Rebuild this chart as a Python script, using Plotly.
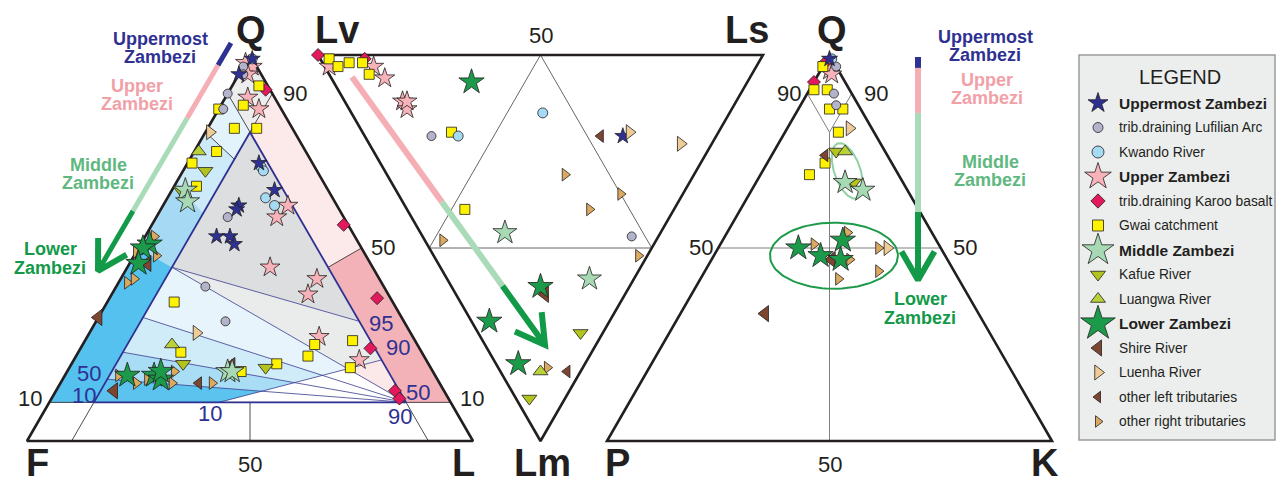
import math
import plotly.graph_objects as go

# ---------------- DATA (percent compositions) ----------------
# QFL diagram: (Q, F, L)
QFL_UPPERMOST = [(99, 0, 1), (95, 5, 0), (72, 12, 16), (65, 12, 23), (61, 22, 17), (60, 23, 17),
                 (53, 31, 16), (53, 28, 19), (51, 28, 21)]
QFL_LUFILIAN = [(97, 3, 0), (95, 4, 1), (90, 10, 0), (86, 13, 1), (58, 26, 16), (40, 40, 20), (31, 40, 29)]
QFL_KWANDO = [(99, 0, 1), (71, 12, 17), (70, 12, 18), (63, 15, 22), (61, 14, 25)]
QFL_UPPER = [(98, 2, 0), (97, 1, 2), (95, 3, 2), (89, 6, 5), (86, 5, 9), (61, 11, 28), (58, 15, 27),
             (45, 23, 32), (42, 14, 44), (38, 18, 44), (27, 21, 52), (21, 15, 64)]
QFL_KAROO = [(91, 1, 8), (56, 1, 43), (37, 3, 60), (24, 11, 65), (13, 11, 76), (11, 11, 78)]
QFL_GWAI = [(92, 2, 6), (86, 14, 0), (87, 8, 5), (81, 13, 6), (81, 8, 11), (75, 20, 5), (72, 27, 1),
            (66, 29, 5), (36, 49, 15), (23, 54, 23), (18, 43, 39), (20, 34, 46), (22, 26, 52),
            (25, 23, 52), (26, 14, 60), (19, 18, 63)]
QFL_MIDDLE = [(65, 32, 3), (62, 33, 5), (18, 46, 36), (18, 45, 37)]
QFL_KAFUE = [(70, 25, 5), (65, 33, 2), (20, 55, 25), (19, 37, 44)]
QFL_LUANGWA = [(75, 24, 1), (25, 55, 20)]
QFL_LOWER = [(51, 47, 2), (50, 49, 1), (46, 52, 2), (17, 69, 14), (17, 63, 20), (16, 62, 22), (18, 61, 21)]
QFL_SHIRE = [(46, 50, 4), (32, 68, 0), (13, 74, 13)]
QFL_OTHER_LEFT = [(15, 54, 31), (20, 44, 36)]
QFL_LUENHA = [(80, 19, 1), (28, 48, 24)]
QFL_OTHER_RIGHT = [(53, 45, 2), (49, 51, 0), (48, 47, 5), (41, 57, 2), (42, 55, 3), (17, 71, 12),
                   (15, 68, 17), (16, 65, 19), (18, 58, 24), (15, 60, 25), (15, 51, 34)]

# Lithic diagram: (Lv, Ls, Lm)
LLL_UPPERMOST = [(21, 58, 21)]
LLL_LUFILIAN = [(64, 15, 21), (6, 47, 47)]
LLL_KWANDO = [(58, 21, 21), (42, 43, 15)]
LLL_UPPER = [(96, 1, 3), (86, 11, 3), (82, 12, 6), (75, 13, 12), (73, 13, 14), (74, 14, 12)]
LLL_KAROO = [(100, 0, 0), (89, 10, 1)]
LLL_GWAI = [(97, 2, 1), (94, 3, 3), (92, 6, 2), (89, 9, 2), (86, 9, 5), (60, 20, 20), (47, 13, 40)]
LLL_MIDDLE = [(35, 19, 46), (10, 32, 58)]
LLL_KAFUE = [(5, 23, 72), (8, 3, 89)]
LLL_LUANGWA = [(9, 9, 82)]
LLL_LOWER = [(62, 31, 7), (20, 20, 60), (27, 4, 69), (15, 5, 80)]
LLL_SHIRE = [(18, 20, 62)]
LLL_OTHER_LEFT = [(26, 53, 21), (3, 15, 82)]
LLL_LUENHA = [(7, 70, 23), (20, 60, 20)]
LLL_OTHER_RIGHT = [(29, 40, 31), (14, 50, 36), (19, 41, 40), (48, 4, 48), (2, 46, 52), (8, 11, 81)]

# QPK diagram: (Q, P, K)
QPK_UPPERMOST = [(99, 0.5, 0.5)]
QPK_LUFILIAN = [(97, 0, 3), (90, 4, 6), (87, 5, 8)]
QPK_KWANDO = [(99, 0, 1)]
QPK_UPPER = [(96, 2, 2), (95, 2, 3)]
QPK_KAROO = [(98, 2, 0), (93, 7, 0)]
QPK_GWAI = [(97, 3, 0), (91, 8, 1), (91, 5, 4), (86, 7, 7), (86, 4, 10), (80, 8, 12), (72, 15, 13), (69, 20, 11)]
QPK_MIDDLE = [(67, 13, 20), (65, 10, 25)]
QPK_KAFUE = [(75, 11, 14), (67, 11, 22)]
QPK_LUANGWA = [(75, 9, 16)]
QPK_LOWER = [(50, 32, 18), (48, 28, 24), (47, 24, 29), (52, 21, 27)]
QPK_SHIRE = [(47, 26, 27), (33, 48, 19)]
QPK_OTHER_LEFT = [(74, 14, 12)]
QPK_LUENHA = [(81, 5, 14), (50, 12, 38)]
QPK_OTHER_RIGHT = [(51, 28, 21), (54, 19, 27), (47, 22, 31), (50, 14, 36), (44, 17, 39), (42, 27, 31)]

LEGEND_ITEMS = [
    ("Uppermost Zambezi", "uppermost", True), ("trib.draining Lufilian Arc", "lufilian", False),
    ("Kwando River", "kwando", False), ("Upper Zambezi", "upper", True),
    ("trib.draining Karoo basalt", "karoo", False), ("Gwai catchment", "gwai", False),
    ("Middle Zambezi", "middle", True), ("Kafue River", "kafue", False),
    ("Luangwa River", "luangwa", False), ("Lower Zambezi", "lower", True),
    ("Shire River", "shire", False), ("Luenha River", "luenha", False),
    ("other left tributaries", "other_left", False), ("other right tributaries", "other_right", False),
]

# ---------------- STYLES ----------------
STYLE = {
    "uppermost": ("star", 12, "#2e3192", 15),
    "lufilian": ("circle", 9, "#b3b4cc", 10),
    "kwando": ("circle", 10, "#a4dbf3", 12),
    "upper": ("star", 15, "#f7b3b9", 20),
    "karoo": ("diamond", 10, "#e21a5d", 11),
    "gwai": ("square", 10, "#fff200", 11),
    "middle": ("star", 18, "#a6d9b4", 24),
    "kafue": ("triangle-down", 13, "#b2c41d", 13),
    "luangwa": ("triangle-up", 13, "#b9d23a", 13),
    "lower": ("star", 19, "#1b9a4a", 26),
    "shire": ("triangle-left", 14, "#7d4631", 14),
    "luenha": ("triangle-right", 13, "#efcb96", 13),
    "other_left": ("triangle-left", 11, "#7d4631", 10),
    "other_right": ("triangle-right", 11, "#dca960", 10),
}
FONT = "Liberation Sans, Arial, sans-serif"
NAVY = "#2e3192"
PINK = "#f4aeb4"
LGREEN = "#a9dbb8"
DGREEN = "#129a48"

# triangle frames (layout): vertices in plot units
TRI_QFL = {"top": (250, 55), "left": (27, 441), "right": (473, 441)}
TRI_LLL = {"a": (318, 55), "b": (763, 55), "c": (540.5, 441)}
TRI_QPK = {"top": (829.5, 55), "left": (607, 441), "right": (1052, 441)}


def bary(v1, v2, v3):
    def f(a, b, c):
        s = float(a + b + c)
        a, b, c = a / s, b / s, c / s
        return (a * v1[0] + b * v2[0] + c * v3[0], a * v1[1] + b * v2[1] + c * v3[1])
    return f


P_QFL = bary(TRI_QFL["top"], TRI_QFL["left"], TRI_QFL["right"])
P_LLL = bary(TRI_LLL["a"], TRI_LLL["b"], TRI_LLL["c"])
P_QPK = bary(TRI_QPK["top"], TRI_QPK["left"], TRI_QPK["right"])

fig = go.Figure()


def poly(pts, proj, color):
    xy = [proj(*p) for p in pts]
    xy.append(xy[0])
    fig.add_trace(go.Scatter(x=[p[0] for p in xy], y=[p[1] for p in xy], mode="lines",
                             fill="toself", fillcolor=color, line=dict(width=0, color=color),
                             hoverinfo="skip", showlegend=False))


def line(pts, proj, color, width, close=False):
    xy = [proj(*p) for p in pts]
    if close:
        xy.append(xy[0])
    fig.add_trace(go.Scatter(x=[p[0] for p in xy], y=[p[1] for p in xy], mode="lines",
                             line=dict(color=color, width=width), hoverinfo="skip", showlegend=False))


def pix_line(xs, ys, color, width):
    fig.add_trace(go.Scatter(x=xs, y=ys, mode="lines", line=dict(color=color, width=width),
                             hoverinfo="skip", showlegend=False))


# ---------------- QFL classification fields ----------------
A, B, C = (80, 10, 10), (10, 80, 10), (10, 10, 80)
poly([(100, 0, 0), (90, 10, 0), A, (90, 0, 10)], P_QFL, "#eceeee")
poly([(90, 10, 0), A, (73, 17, 10), (80, 20, 0)], P_QFL, "#e3f3fb")
poly([(80, 20, 0), (73, 17, 10), (59, 31, 10), (67, 33, 0)], P_QFL, "#cdeaf8")
poly([(67, 33, 0), (59, 31, 10), (45, 45, 10), (50, 50, 0)], P_QFL, "#a6daf4")
poly([(50, 50, 0), (45, 45, 10), B, (10, 90, 0)], P_QFL, "#55c1ee")
poly([(90, 0, 10), A, (45, 10, 45), (50, 0, 50)], P_QFL, "#fce9ea")
poly([(50, 0, 50), (45, 10, 45), C, (10, 0, 90)], P_QFL, "#f2b2b7")
poly([A, B, C], P_QFL, "#eaecec")
poly([(45, 45, 10), C, (32, 58, 10)], P_QFL, "#e7f4fb")
poly([(32, 58, 10), C, (23, 67, 10)], P_QFL, "#d1ecf9")
poly([(23, 67, 10), C, (16, 74, 10)], P_QFL, "#a9ddf5")
poly([(16, 74, 10), C, B], P_QFL, "#5cc3ef")
poly([(10, 52, 38), (21, 10, 69), C], P_QFL, "#ffffff")
poly([(21, 10, 69), C, (19, 19, 62)], P_QFL, "#fbe8e9")
poly([A, (45, 45, 10), (31, 10, 59)], P_QFL, "#dcdedf")

# thin field boundaries
for seg in [[(90, 10, 0), A], [(90, 0, 10), A], [(80, 20, 0), (73, 17, 10)], [(50, 0, 50), (45, 10, 45)],
            [(10, 90, 0), (10, 0, 90)], [B, (0, 90, 10)], [C, (0, 10, 90)], [(10, 45, 45), (0, 50, 50)]]:
    line(seg, P_QFL, "#231f20", 0.8)
for seg in [[(45, 45, 10), C], [(32, 58, 10), C], [(23, 67, 10), C], [(16, 74, 10), C],
            [(45, 45, 10), (31, 10, 59)], [(10, 52, 38), (21, 10, 69)]]:
    line(seg, P_QFL, "#3a3c8f", 0.8)
line([A, B, C], P_QFL, NAVY, 1.8, close=True)
line([(100, 0, 0), (0, 100, 0), (0, 0, 100)], P_QFL, "#231f20", 2.6, close=True)

# ---------------- Lv-Ls-Lm frame ----------------
line([(50, 50, 0), (50, 0, 50), (0, 50, 50)], P_LLL, "#555555", 0.9, close=True)
line([(100, 0, 0), (0, 100, 0), (0, 0, 100)], P_LLL, "#231f20", 2.6, close=True)

# ---------------- QPK frame ----------------
line([(90, 10, 0), (80, 10, 10), (90, 0, 10)], P_QPK, "#808080", 1.0)
line([(80, 10, 10), (0, 50, 50)], P_QPK, "#808080", 1.0)
line([(50, 50, 0), (50, 0, 50)], P_QPK, "#808080", 1.0)
line([(100, 0, 0), (0, 100, 0), (0, 0, 100)], P_QPK, "#231f20", 2.6, close=True)


def ellipse(center, a, b, ang_deg, color, width):
    cx, cy = P_QPK(*center)
    th = math.radians(ang_deg)
    xs, ys = [], []
    for i in range(101):
        t = 2 * math.pi * i / 100
        xs.append(cx + a * math.cos(t) * math.cos(th) - b * math.sin(t) * math.sin(th))
        ys.append(cy + a * math.cos(t) * math.sin(th) + b * math.sin(t) * math.cos(th))
    pix_line(xs, ys, color, width)


ellipse((48, 25, 27), 64, 33, 0, "#1f9a4b", 2)
ellipse((70, 11, 19), 29, 13, 71, "#8fd0a4", 2)


# ---------------- trend bars with arrowheads ----------------
def bar(start, end, breaks, width):
    cols = [NAVY, PINK, LGREEN, DGREEN]
    ts = [0.0] + breaks + [1.0]
    for i, col in enumerate(cols):
        t0, t1 = ts[i], ts[i + 1]
        if t1 <= t0:
            continue
        xs = [start[0] + (end[0] - start[0]) * t for t in (t0, t1)]
        ys = [start[1] + (end[1] - start[1]) * t for t in (t0, t1)]
        pix_line(xs, ys, col, width)
    ang = math.atan2(end[1] - start[1], end[0] - start[0]) + math.pi
    xs, ys = [], []
    for d in (-math.pi / 6, 0, math.pi / 6):
        if d == 0:
            xs.append(end[0]); ys.append(end[1])
        else:
            xs.append(end[0] + 33 * math.cos(ang + d)); ys.append(end[1] + 33 * math.sin(ang + d))
    pix_line(xs, ys, DGREEN, 6)


bar((231, 43), (98, 271), [0.098, 0.33, 0.737], 5)
bar((352, 77), (545, 345), [0.0, 0.466, 0.78], 6)
bar((918, 57), (918, 280), [0.049, 0.251, 0.695], 6)

# ---------------- data points ----------------
ORDER = ["upper", "karoo", "gwai", "lufilian", "kwando", "uppermost", "luenha", "other_right",
         "shire", "other_left", "kafue", "luangwa", "middle", "lower"]
DATASETS = {
    "QFL": (P_QFL, {"uppermost": QFL_UPPERMOST, "lufilian": QFL_LUFILIAN, "kwando": QFL_KWANDO,
                    "upper": QFL_UPPER, "karoo": QFL_KAROO, "gwai": QFL_GWAI, "middle": QFL_MIDDLE,
                    "kafue": QFL_KAFUE, "luangwa": QFL_LUANGWA, "lower": QFL_LOWER, "shire": QFL_SHIRE,
                    "other_left": QFL_OTHER_LEFT, "luenha": QFL_LUENHA, "other_right": QFL_OTHER_RIGHT}),
    "LLL": (P_LLL, {"uppermost": LLL_UPPERMOST, "lufilian": LLL_LUFILIAN, "kwando": LLL_KWANDO,
                    "upper": LLL_UPPER, "karoo": LLL_KAROO, "gwai": LLL_GWAI, "middle": LLL_MIDDLE,
                    "kafue": LLL_KAFUE, "luangwa": LLL_LUANGWA, "lower": LLL_LOWER, "shire": LLL_SHIRE,
                    "other_left": LLL_OTHER_LEFT, "luenha": LLL_LUENHA, "other_right": LLL_OTHER_RIGHT}),
    "QPK": (P_QPK, {"uppermost": QPK_UPPERMOST, "lufilian": QPK_LUFILIAN, "kwando": QPK_KWANDO,
                    "upper": QPK_UPPER, "karoo": QPK_KAROO, "gwai": QPK_GWAI, "middle": QPK_MIDDLE,
                    "kafue": QPK_KAFUE, "luangwa": QPK_LUANGWA, "lower": QPK_LOWER, "shire": QPK_SHIRE,
                    "other_left": QPK_OTHER_LEFT, "luenha": QPK_LUENHA, "other_right": QPK_OTHER_RIGHT}),
}
for name, (proj, groups) in DATASETS.items():
    for key in ORDER:
        pts = groups[key]
        xy = [proj(*p) for p in pts]
        sym, size, col, _ = STYLE[key]
        fig.add_trace(go.Scatter(x=[p[0] for p in xy], y=[p[1] for p in xy], mode="markers",
                                 marker=dict(symbol=sym, size=size, color=col,
                                             line=dict(color="#231f20", width=0.8)),
                                 name=key, hoverinfo="skip", showlegend=False))

# ---------------- legend box ----------------
LEG_X0, LEG_X1, LEG_Y0, LEG_Y1 = 1079, 1275, 55, 440
ROW0, ROWSTEP = 103, 24.5
shapes = [dict(type="rect", xref="x", yref="y", x0=LEG_X0, x1=LEG_X1, y0=LEG_Y0, y1=LEG_Y1,
               fillcolor="#eceeee", line=dict(color="#9a9a9a", width=1.5), layer="below")]
annotations = [dict(x=(LEG_X0 + LEG_X1) / 2 + 3, y=77, text="LEGEND", showarrow=False,
                    font=dict(family=FONT, size=20, color="#231f20"), xanchor="center", yanchor="middle")]
for i, (label, key, bold) in enumerate(LEGEND_ITEMS):
    yy = ROW0 + i * ROWSTEP
    sym, _, col, lsize = STYLE[key]
    fig.add_trace(go.Scatter(x=[1098], y=[yy], mode="markers",
                             marker=dict(symbol=sym, size=lsize, color=col, line=dict(color="#231f20", width=0.8)),
                             hoverinfo="skip", showlegend=False))
    annotations.append(dict(x=1117, y=yy, text=("<b>%s</b>" % label) if bold else label, showarrow=False,
                            xanchor="left", yanchor="middle",
                            font=dict(family=FONT, size=15.5 if bold else 13.8, color="#231f20")))


def txt(x, y, s, size, color="#231f20", bold=False):
    annotations.append(dict(x=x, y=y, text=("<b>%s</b>" % s) if bold else s, showarrow=False,
                            xanchor="center", yanchor="middle", font=dict(family=FONT, size=size, color=color)))


# vertex labels
for (x, y, s) in [(251, 30, "Q"), (337, 30, "Lv"), (747, 30, "Ls"), (832, 30, "Q"),
                  (37, 463, "F"), (463, 463, "L"), (542, 463, "Lm"), (617, 463, "P"), (1045, 463, "K")]:
    txt(x, y, s, 38, bold=True)
# axis numbers
for (x, y, s) in [(30, 398, "10"), (472, 398, "10"), (383, 247, "50"), (295, 93, "90"), (250, 464, "50"),
                  (541, 35, "50"), (789, 93, "90"), (876, 93, "90"), (701, 247, "50"), (965, 247, "50"),
                  (830, 464, "50")]:
    txt(x, y, s, 22)
for (x, y, s) in [(89, 373, "50"), (84, 395, "10"), (210, 413, "10"), (381, 323, "95"), (398, 347, "90"),
                  (418, 392, "50"), (400, 416, "90")]:
    txt(x, y, s, 22, color=NAVY)
# river-reach labels
for (x, y, s, c) in [(160, 39, "Uppermost", NAVY), (160, 57, "Zambezi", NAVY),
                     (137, 86, "Upper", "#f2a0a7"), (137, 104, "Zambezi", "#f2a0a7"),
                     (98, 165, "Middle", "#5fb87f"), (98, 183, "Zambezi", "#5fb87f"),
                     (50, 249, "Lower", DGREEN), (50, 268, "Zambezi", DGREEN),
                     (985, 37, "Uppermost", NAVY), (985, 55, "Zambezi", NAVY),
                     (987, 80, "Upper", "#f2a0a7"), (987, 98, "Zambezi", "#f2a0a7"),
                     (990, 162, "Middle", "#5fb87f"), (990, 180, "Zambezi", "#5fb87f"),
                     (920, 299, "Lower", DGREEN), (920, 318, "Zambezi", DGREEN)]:
    txt(x, y, s, 18, color=c, bold=True)

fig.update_layout(
    width=1279, height=484, margin=dict(l=0, r=0, t=0, b=0),
    paper_bgcolor="white", plot_bgcolor="white", showlegend=False,
    xaxis=dict(range=[0, 1279], visible=False, fixedrange=True),
    yaxis=dict(range=[484, 0], visible=False, fixedrange=True),
    shapes=shapes, annotations=annotations,
)
fig.write_html("out.html", config={"displayModeBar": False},
               post_script="document.body.style.margin='0px';document.body.style.overflow='hidden';")
